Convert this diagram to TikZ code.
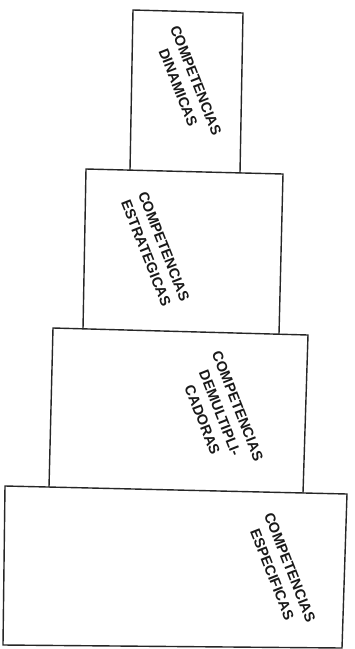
\documentclass[tikz,border=0pt]{standalone}
\usepackage{fontspec}
\setmainfont{Liberation Sans}
\begin{document}
\begin{tikzpicture}[x=1pt,y=-1pt,
  boxline/.style={draw=black!85, line width=1.4pt, line join=miter},
  lbl/.style={font=\bfseries\fontsize{14.5}{19}\selectfont, align=center, rotate=-68.5, inner sep=0pt, text=black!90}]
\useasboundingbox[fill=white] (0,0) rectangle (355,649);
% boxes (slightly tilted, as in the scan)
\draw[boxline] (130,170) -- (133,10) -- (243,13) -- (240,173);
\draw[boxline] (83,329) -- (86,169) -- (283,174) -- (279,334);
\draw[boxline] (49,487) -- (53,328) -- (308,335) -- (303,493);
\draw[boxline] (5,486) -- (347,494) -- (342,648) -- (3,645) -- cycle;
% labels
\node[lbl] (dyn) at (187,84) {COMPETENCIAS\\DINAMICAS};
\node[lbl] (est) at (155,250) {COMPETENCIAS\\ESTRATEGICAS};
\node[lbl] (dem) at (220,413) {COMPETENCIAS\\DEMULTIPLI-\\CADORAS};
\node[lbl] (esp) at (281,571) {COMPETENCIAS\\ESPECIFICAS};
\end{tikzpicture}
\end{document}
